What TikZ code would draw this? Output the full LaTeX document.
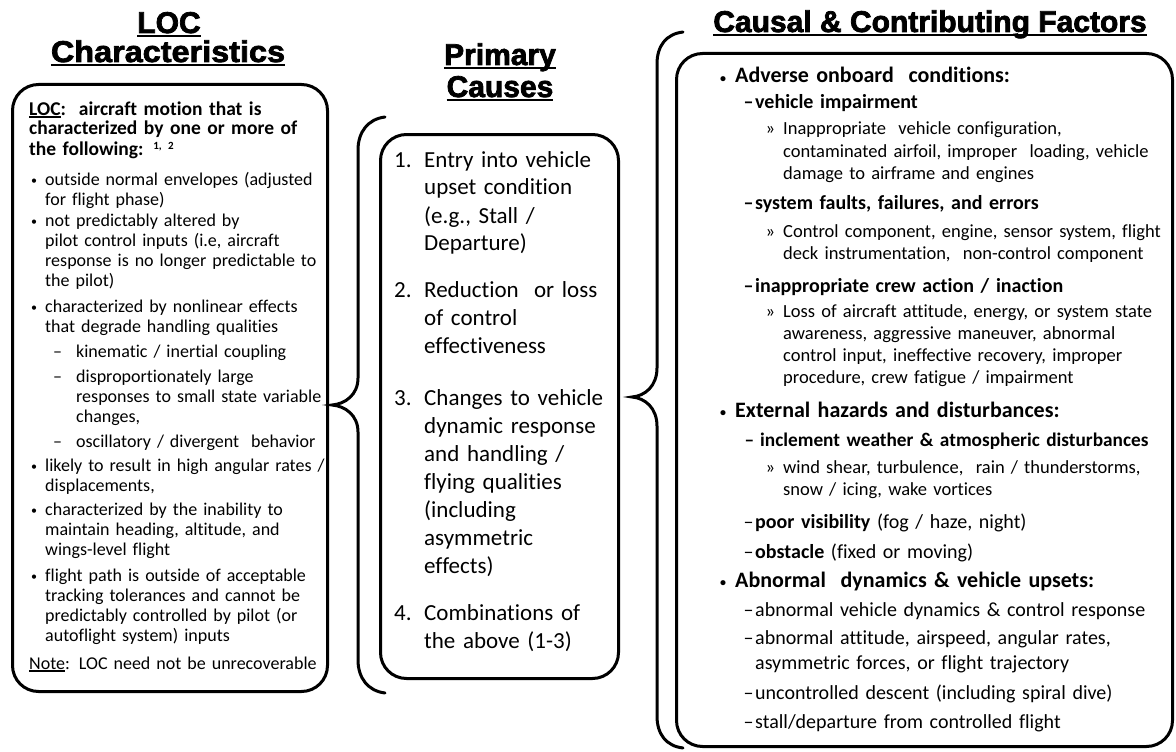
\documentclass[tikz,border=0pt]{standalone}
\usepackage{fontspec}
\setmainfont{Carlito}[Ligatures={NoCommon}]
\newfontfamily\headfont{Liberation Sans}[BoldFeatures={FakeBold=2.5}]
\newsavebox\ulbox
\newcommand\headul[1]{\sbox\ulbox{#1}\rlap{\rule[-4pt]{\wd\ulbox}{2.2pt}}\usebox\ulbox}
\newcommand\bodyul[1]{\sbox\ulbox{#1}\rlap{\rule[-2.5pt]{\wd\ulbox}{1.2pt}}\usebox\ulbox}
\newcommand\smallbul{{\fontsize{12}{12}\selectfont\raisebox{1pt}{•}}}
\newcommand\bul{\llap{\smallbul\hspace{8pt}}}
\newcommand\subdash{\llap{–\hspace{14pt}}}
\newcommand\bigbul{\llap{\smallbul\hspace{9pt}}}
\newcommand\dsh{\llap{–\kern1.5pt}}
\newcommand\chev{\llap{»\hspace{8pt}}}
\newcommand\num[1]{\llap{\makebox[30pt][l]{#1}}}
\tikzset{
  panel/.style={draw, line width=3pt, rounded corners=26pt, inner sep=0pt, anchor=north west},
  bracket/.style={line width=3pt, line cap=round},
  head/.style={font=\headfont\bfseries\fontsize{30}{30}\selectfont, anchor=base, inner sep=0pt},
  lochead/.style={anchor=base west, inner sep=0pt, text width=300pt, align=left, font=\bfseries\fontsize{19.5}{20}\selectfont},
  loctext/.style={anchor=base west, inner sep=0pt, text width=300pt, align=left, font=\fontsize{18}{20}\selectfont},
  causetext/.style={anchor=base west, inner sep=0pt, text width=220pt, align=left, font=\fontsize{23}{28}\selectfont},
  factorhead/.style={anchor=base west, inner sep=0pt, text width=430pt, align=left, font=\bfseries\fontsize{22}{26}\selectfont},
  factorsub/.style={anchor=base west, inner sep=0pt, text width=430pt, align=left, font=\fontsize{20}{25}\selectfont},
  factortext/.style={anchor=base west, inner sep=0pt, text width=400pt, align=left, font=\fontsize{18.5}{22}\selectfont}
}
\begin{document}
\begin{tikzpicture}[x=1pt, y=-1pt]
    \useasboundingbox (0,0) rectangle (1176,752);

    % headers
    \node[head] (loctitle) at (169,33) {\headul{LOC}};
    \node[head, font=\headfont\bfseries\fontsize{30}{30}\selectfont\addfontfeature{FakeStretch=1.08}] (loctitleb) at (168,62) {\headul{Characteristics}};
    \node[head] (causetitle) at (500,65) {\headul{Primary}};
    \node[head] (causetitleb) at (500,97) {\headul{Causes}};
    \node[head] (factortitle) at (930,32) {\headul{Causal \& Contributing Factors}};

    % boxes
    \node[panel, minimum width=315pt, minimum height=607pt] (locbox) at (11,83) {};
    \node[panel, minimum width=238pt, minimum height=544pt] (causebox) at (379,133) {};
    \node[panel, minimum width=496pt, minimum height=693pt] (factorbox) at (675,52) {};

    % braces
    \draw[bracket] (385,117) .. controls (368,119) and (358,132) .. (358,150) -- (358,378)
        .. controls (358,395) and (345,404) .. (332,405) .. controls (345,406) and (358,415) .. (358,432)
        -- (358,660) .. controls (358,678) and (368,691) .. (385,693);
    \draw[bracket] (683,32) .. controls (666,34) and (657,46) .. (657,64) -- (657,368)
        .. controls (657,386) and (645,396) .. (632,397) .. controls (645,398) and (657,408) .. (657,426)
        -- (657,716) .. controls (657,734) and (666,746) .. (683,748);

    % LOC characteristics
    \node[lochead] (locdef) at (29,115) {\bodyul{LOC}:\ \ aircraft motion that is\\ characterized by one or more of\\ the following: \raisebox{6pt}{\fontsize{11}{11}\selectfont 1, 2}};
    \node[loctext] (envelope) at (45,185) {\bul outside normal envelopes (adjusted\\ for flight phase)};
    \node[loctext] (pilotinput) at (45,226) {\bul not predictably altered by\\ pilot control inputs (i.e, aircraft\\ response is no longer predictable to\\ the pilot)};
    \node[loctext] (nonlinear) at (45,312) {\bul characterized by nonlinear effects\\ that degrade handling qualities};
    \node[loctext] (kinematic) at (76,357) {\subdash kinematic / inertial coupling};
    \node[loctext] (largeresp) at (76,382) {\subdash disproportionately large\\ responses to small state variable\\ changes,};
    \node[loctext] (oscill) at (76,447) {\subdash oscillatory / divergent\ \ behavior};
    \node[loctext] (rates) at (45,471) {\bul likely to result in high angular rates /\\ displacements,};
    \node[loctext] (heading) at (45,515) {\bul characterized by the inability to\\ maintain heading, altitude, and\\ wings-level flight};
    \node[loctext] (path) at (45,581) {\bul flight path is outside of acceptable\\ tracking tolerances and cannot be\\ predictably controlled by pilot (or\\ autoflight system) inputs};
    \node[loctext] (locnote) at (29,669) {\bodyul{Note}: LOC need not be unrecoverable};

    % primary causes
    \node[causetext] (entry) at (424,167) {\num{1.}Entry into vehicle\\ upset condition\\ (e.g., Stall /\\ Departure)};
    \node[causetext] (reduction) at (424,297) {\num{2.}Reduction\ \ or loss\\ of control\\ effectiveness};
    \node[causetext] (changes) at (424,405) {\num{3.}Changes to vehicle\\ dynamic response\\ and handling /\\ flying qualities\\ (including\\ asymmetric\\ effects)};
    \node[causetext] (combo) at (424,620) {\num{4.}Combinations\ of\\ the above (1-3)};

    % causal and contributing factors
    \node[factorhead] (adverse) at (735,83) {\bigbul Adverse onboard\ \ conditions:};
    \node[factorsub, font=\bfseries\fontsize{20}{25}\selectfont] (impair) at (755,108) {\dsh vehicle impairment};
    \node[factortext] (config) at (783,135) {\chev Inappropriate\ \ vehicle configuration,\\ contaminated airfoil, improper\ \ loading, vehicle\\ damage to airframe and engines};
    \node[factorsub, font=\bfseries\fontsize{20}{25}\selectfont] (faults) at (755,209) {\dsh system faults, failures, and errors};
    \node[factortext] (component) at (783,237) {\chev Control component, engine, sensor system, flight\\ deck instrumentation,\ \ non-control component};
    \node[factorsub, font=\bfseries\fontsize{20}{25}\selectfont] (crew) at (755,292) {\dsh inappropriate crew action / inaction};
    \node[factortext] (awareness) at (783,317) {\chev Loss of aircraft attitude, energy, or system state\\ awareness, aggressive maneuver, abnormal\\ control input, ineffective recovery, improper\\ procedure, crew fatigue / impairment};
    \node[factorhead] (external) at (735,417) {\bigbul External hazards and disturbances:};
    \node[factorsub, font=\bfseries\fontsize{19.3}{25}\selectfont] (weather) at (760,446) {\llap{–\hspace{6pt}}inclement weather \& atmospheric disturbances};
    \node[factortext] (wind) at (783,473) {\chev wind shear, turbulence,\ \ rain / thunderstorms,\\ snow / icing, wake vortices};
    \node[factorsub] (visibility) at (755,528) {\dsh\textbf{poor visibility} (fog / haze, night)};
    \node[factorsub] (obstacle) at (755,558) {\dsh\textbf{obstacle} (fixed or moving)};
    \node[factorhead] (abnormal) at (735,587) {\bigbul Abnormal\ \ dynamics \& vehicle upsets:};
    \node[factorsub] (dynamics) at (755,616) {\dsh abnormal vehicle dynamics \& control response};
    \node[factorsub] (attitude) at (755,644) {\dsh abnormal attitude, airspeed, angular rates,\\ asymmetric forces, or flight trajectory};
    \node[factorsub] (descent) at (755,699) {\dsh uncontrolled descent (including spiral dive)};
    \node[factorsub] (stall) at (755,728) {\dsh stall/departure from controlled flight};
\end{tikzpicture}
\end{document}
